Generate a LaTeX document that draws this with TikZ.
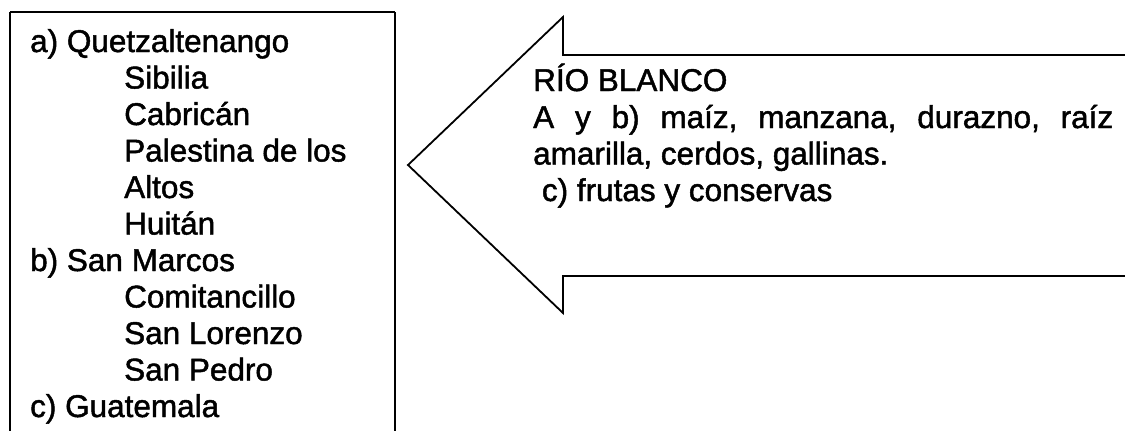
\documentclass[tikz,border=0pt]{standalone}
\usepackage{fontspec}
\setmainfont{Liberation Sans}[FakeBold=1.5]
\begin{document}
\begin{tikzpicture}[x=1bp,y=-1bp,
  lbl/.style={anchor=base west,inner sep=0pt,font=\fontsize{31.6}{36.5}\selectfont},
  frame/.style={draw=black,line width=1.8bp}]
\useasboundingbox (0,0) rectangle (1125,430);
\clip (0,0) rectangle (1125,430);
% left box
\draw[frame] (10,12) -- (10,440) (395,12) -- (395,440) (10,12) -- (395,12);
\node[lbl] (a) at (30,52) {a) Quetzaltenango};
\node[lbl] (a1) at (124,88.5) {Sibilia};
\node[lbl] (a2) at (124,125) {Cabricán};
\node[lbl] (a3) at (124,161.5) {Palestina de los};
\node[lbl] (a4) at (124,198) {Altos};
\node[lbl] (a5) at (124,234.5) {Huitán};
\node[lbl] (b) at (30,271) {b) San Marcos};
\node[lbl] (b1) at (124,307.5) {Comitancillo};
\node[lbl] (b2) at (124,344) {San Lorenzo};
\node[lbl] (b3) at (124,380.5) {San Pedro};
\node[lbl] (c) at (30,417) {c) Guatemala};
% arrow
\coordinate (tip) at (408,165);
\draw[frame,line join=miter] (1130,55) -- (563,55) -- (563,17) -- (tip) -- (563,313) -- (563,276) -- (1130,276);
\node[lbl] (r0) at (533,91) {RÍO BLANCO};
\node[lbl] (r1) at (533,128) {\hbox to 580bp{A\hfill y\hfill b)\hfill maíz,\hfill manzana,\hfill durazno,\hfill raíz}};
\node[lbl] (r2) at (533,164.5) {amarilla, cerdos, gallinas.};
\node[lbl] (r3) at (533,201) {\ c) frutas y conservas};
\end{tikzpicture}
\end{document}
